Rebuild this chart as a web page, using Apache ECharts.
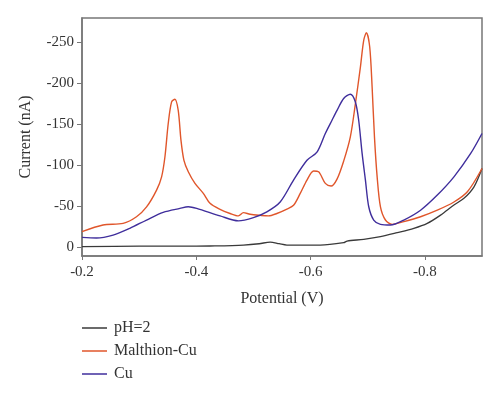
<!DOCTYPE html>
<html>
<head>
<meta charset="utf-8">
<script src="https://cdn.jsdelivr.net/npm/echarts@6/dist/echarts.min.js"></script>
<style>html,body{margin:0;padding:0;background:#fff;}#c{width:500px;height:393px;}</style>
</head>
<body>
<div id="c"></div>
<script>
var seriesNames = ['pH=2', 'Malthion-Cu', 'Cu'];

var phV = [-0.2, -0.3, -0.4, -0.424, -0.4825, -0.51, -0.5293, -0.545, -0.5586, -0.617, -0.6579, -0.6639, -0.693, -0.7223, -0.7516, -0.7807, -0.8042, -0.8275, -0.8509, -0.8684, -0.886, -0.9];
var phI = [-0.5, -1, -1, -1.2, -2.4, -4, -6, -4, -2.4, -2.4, -5.3, -7.3, -9.4, -12.6, -17.5, -22.8, -28.9, -39, -51.3, -59.5, -73.6, -96];

var malV = [-0.2, -0.2368, -0.2719, -0.2954, -0.313, -0.3305, -0.3393, -0.3451, -0.3509, -0.3568, -0.3626, -0.3684, -0.3732, -0.3784, -0.386, -0.3977, -0.4123, -0.424, -0.4416, -0.4591, -0.4737, -0.4825, -0.4942, -0.5118, -0.5263, -0.541, -0.5586, -0.5702, -0.5819, -0.5937, -0.6053, -0.614, -0.6258, -0.6358, -0.6463, -0.6579, -0.6696, -0.6784, -0.6872, -0.693, -0.6977, -0.7035, -0.7077, -0.7118, -0.7165, -0.7223, -0.731, -0.7428, -0.7632, -0.7925, -0.8218, -0.8509, -0.8744, -0.9];
var malI = [-18.7, -26.9, -28.9, -37, -49, -69.6, -85.8, -110, -151, -177.4, -180.7, -167, -130.6, -106, -92, -77.8, -65.6, -53.4, -46, -41, -38, -42, -40, -38.7, -38, -41, -46.4, -51, -65.5, -81.8, -93, -92, -77.8, -74.5, -83, -105, -134.7, -175, -220, -252.7, -262, -244.6, -195.7, -134.7, -85.8, -49, -33, -27.7, -31, -37, -45, -55, -67.5, -96];

var cuV = [-0.2, -0.2253, -0.2544, -0.2837, -0.313, -0.3421, -0.3714, -0.386, -0.4007, -0.4416, -0.4737, -0.5, -0.5235, -0.5468, -0.5702, -0.5937, -0.6112, -0.6258, -0.6375, -0.6463, -0.6579, -0.6696, -0.6784, -0.6842, -0.6902, -0.696, -0.7018, -0.7105, -0.7223, -0.7398, -0.7632, -0.7925, -0.8218, -0.8509, -0.8802, -0.9];
var cuI = [-11.8, -11, -14.6, -22.8, -33, -42.4, -47.2, -49.2, -47.2, -38, -32, -36, -43, -55, -81.8, -106, -116, -138.8, -155, -167, -181.6, -186.8, -177.4, -155, -114.4, -81.8, -49.2, -33, -27.7, -26.9, -33, -45, -63.5, -85.8, -114.4, -138.8];

function pairs(xs, ys) { return xs.map(function (x, i) { return [x, ys[i]]; }); }

var font = 'Liberation Serif';
var axisColor = '#777';

var chart = echarts.init(document.getElementById('c'), null, { renderer: 'canvas' });
chart.setOption({
  animation: false,
  backgroundColor: '#fff',
  grid: { left: 82, right: 18, top: 18, bottom: 137, show: true, borderColor: axisColor, borderWidth: 1.5, backgroundColor: 'transparent' },
  legend: {
    orient: 'vertical', left: 77, top: 315,
    itemWidth: 25, itemHeight: 14, itemGap: 7,
    icon: 'path://M0,6 L25,6 L25,7.5 L0,7.5 Z',
    textStyle: { fontFamily: font, fontSize: 16, color: '#333', padding: [0, 0, 0, 2] },
    data: seriesNames
  },
  xAxis: {
    type: 'value', inverse: true, min: -0.9, max: -0.2, splitNumber: 3,
    name: 'Potential (V)', nameLocation: 'middle', nameGap: 35,
    nameTextStyle: { fontFamily: font, fontSize: 16, color: '#333' },
    axisLine: { show: true, onZero: false, lineStyle: { color: axisColor, width: 1.5 } },
    axisTick: { show: true, inside: false, length: 4, lineStyle: { color: axisColor } },
    axisLabel: { fontFamily: font, fontSize: 15, color: '#333', margin: 9, showMinLabel: false, showMaxLabel: true },
    splitLine: { show: false }
  },
  yAxis: {
    type: 'value', inverse: true, min: -280, max: 11, splitNumber: 5,
    name: 'Current (nA)', nameLocation: 'middle', nameGap: 48, nameRotate: 90,
    nameTextStyle: { fontFamily: font, fontSize: 16, color: '#333' },
    axisLine: { show: true, onZero: false, lineStyle: { color: axisColor, width: 1.5 } },
    axisTick: { show: true, inside: false, length: 5, lineStyle: { color: axisColor } },
    axisLabel: { fontFamily: font, fontSize: 15, color: '#333', margin: 8, showMinLabel: false, showMaxLabel: false },
    splitLine: { show: false }
  },
  series: [
    { name: seriesNames[0], type: 'line', data: pairs(phV, phI), showSymbol: false, symbol: 'none', smooth: 0.3, z: 3,
      lineStyle: { color: '#3a3a3a', width: 1.3 }, itemStyle: { color: '#3a3a3a' } },
    { name: seriesNames[1], type: 'line', data: pairs(malV, malI), showSymbol: false, symbol: 'none', smooth: 0.3, z: 4,
      lineStyle: { color: '#e0562b', width: 1.4 }, itemStyle: { color: '#e0562b' } },
    { name: seriesNames[2], type: 'line', data: pairs(cuV, cuI), showSymbol: false, symbol: 'none', smooth: 0.3, z: 5,
      lineStyle: { color: '#3f2e9c', width: 1.4 }, itemStyle: { color: '#3f2e9c' } }
  ]
});
</script>
</body>
</html>
